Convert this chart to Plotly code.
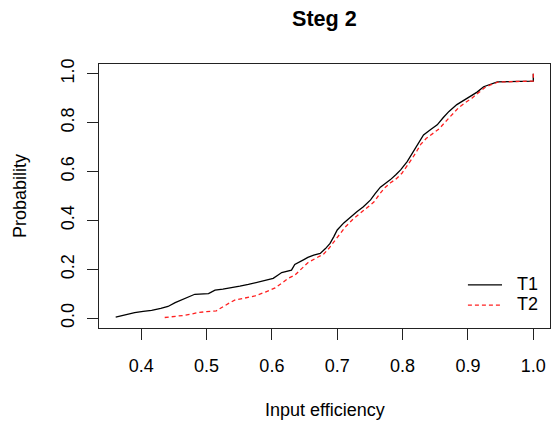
import plotly.graph_objects as go

# ECDF knots (x = input efficiency, y = cumulative probability)
t1_x = [0.361, 0.375, 0.390, 0.403, 0.416, 0.430, 0.441, 0.452, 0.462, 0.472, 0.482, 0.503,
        0.513, 0.525, 0.538, 0.551, 0.564, 0.577, 0.589, 0.602, 0.609, 0.615, 0.630, 0.635,
        0.649, 0.655, 0.664, 0.674, 0.682, 0.689, 0.695, 0.700, 0.710, 0.720, 0.730, 0.740,
        0.751, 0.758, 0.766, 0.774, 0.781, 0.790, 0.797, 0.807, 0.814, 0.820, 0.826, 0.832,
        0.843, 0.853, 0.862, 0.871, 0.883, 0.893, 0.904, 0.914, 0.924, 0.935, 0.945, 0.980,
        1.000, 1.000]
t1_y = [0.004, 0.014, 0.023, 0.028, 0.032, 0.040, 0.048, 0.064, 0.075, 0.086, 0.098, 0.101,
        0.115, 0.119, 0.124, 0.131, 0.138, 0.146, 0.154, 0.163, 0.176, 0.187, 0.197, 0.220,
        0.240, 0.249, 0.258, 0.265, 0.285, 0.306, 0.335, 0.361, 0.390, 0.415, 0.436, 0.456,
        0.484, 0.510, 0.536, 0.552, 0.566, 0.588, 0.607, 0.641, 0.672, 0.700, 0.725, 0.750,
        0.772, 0.791, 0.820, 0.846, 0.874, 0.890, 0.906, 0.925, 0.947, 0.958, 0.967, 0.969,
        0.970, 1.000]

t2_x = [0.436, 0.450, 0.467, 0.477, 0.487, 0.500, 0.515, 0.522, 0.528, 0.536, 0.543, 0.558,
        0.574, 0.590, 0.605, 0.615, 0.625, 0.635, 0.645, 0.655, 0.667, 0.679, 0.687, 0.694,
        0.702, 0.712, 0.724, 0.736, 0.746, 0.756, 0.764, 0.772, 0.781, 0.790, 0.799, 0.808,
        0.815, 0.822, 0.828, 0.836, 0.846, 0.856, 0.866, 0.876, 0.886, 0.896, 0.906, 0.916,
        0.926, 0.936, 0.946, 0.980, 1.000, 1.000]
t2_y = [0.003, 0.006, 0.012, 0.017, 0.023, 0.027, 0.030, 0.042, 0.053, 0.064, 0.074, 0.082,
        0.091, 0.107, 0.124, 0.143, 0.163, 0.176, 0.200, 0.227, 0.245, 0.262, 0.285, 0.310,
        0.340, 0.372, 0.405, 0.432, 0.452, 0.475, 0.505, 0.532, 0.553, 0.570, 0.593, 0.625,
        0.655, 0.685, 0.712, 0.735, 0.755, 0.775, 0.805, 0.835, 0.862, 0.882, 0.900, 0.922,
        0.944, 0.956, 0.966, 0.969, 0.970, 1.000]

series_names = ["T1", "T2"]
x_ticks = [0.4, 0.5, 0.6, 0.7, 0.8, 0.9, 1.0]
y_ticks = [0.0, 0.2, 0.4, 0.6, 0.8, 1.0]

FONT = "Liberation Sans, Arial, Helvetica, sans-serif"

xmin = min(t1_x + t2_x)
xmax = max(t1_x + t2_x)
xpad = 0.04 * (xmax - xmin)

fig = go.Figure()
fig.add_trace(go.Scatter(x=t1_x, y=t1_y, mode="lines",
                         line=dict(color="black", width=1.3), name=series_names[0],
                         showlegend=False))
fig.add_trace(go.Scatter(x=t2_x, y=t2_y, mode="lines",
                         line=dict(color="#ff2020", width=1.3, dash="4px,3px"),
                         name=series_names[1], showlegend=False))

axis_common = dict(showline=True, linecolor="#222", linewidth=1, mirror=True,
                   ticks="outside", ticklen=11, tickcolor="#222", showgrid=False,
                   zeroline=False, tickfont=dict(family=FONT, size=18, color="black"))

fig.update_xaxes(range=[xmin - xpad, xmax + xpad], tickvals=x_ticks,
                 ticktext=[f"{v:.1f}" for v in x_ticks], ticklabelstandoff=10, **axis_common)
fig.update_yaxes(range=[-0.04, 1.04], tickvals=y_ticks,
                 ticktext=[f"{v:.1f}" for v in y_ticks], tickangle=-90,
                 ticklabelstandoff=6, **axis_common)

annotations = [
    dict(text="<b>Steg 2</b>", x=0.5, y=1.174, xref="paper", yref="paper",
         showarrow=False, font=dict(family=FONT, size=21.6, color="black"),
         xanchor="center", yanchor="middle"),
    dict(text="Input efficiency", x=0.5, y=-0.3106, xref="paper", yref="paper",
         showarrow=False, font=dict(family=FONT, size=18, color="black"),
         xanchor="center", yanchor="middle"),
    dict(text="Probability", x=-0.1752, y=0.5, xref="paper", yref="paper",
         showarrow=False, textangle=-90, font=dict(family=FONT, size=18, color="black"),
         xanchor="center", yanchor="middle"),
    dict(text=series_names[0], x=0.922, y=0.168, xref="paper", yref="paper",
         showarrow=False, font=dict(family=FONT, size=18, color="black"),
         xanchor="left", yanchor="middle"),
    dict(text=series_names[1], x=0.922, y=0.09, xref="paper", yref="paper",
         showarrow=False, font=dict(family=FONT, size=18, color="black"),
         xanchor="left", yanchor="middle"),
]
shapes = [
    dict(type="line", xref="paper", yref="paper", x0=0.818, x1=0.8936, y0=0.163, y1=0.163,
         line=dict(color="black", width=1.3)),
    dict(type="line", xref="paper", yref="paper", x0=0.818, x1=0.8936, y0=0.087, y1=0.087,
         line=dict(color="#ff2020", width=1.3, dash="4px,3px")),
]

fig.update_layout(width=553, height=421, margin=dict(l=99, r=3, t=64, b=93),
                  paper_bgcolor="white", plot_bgcolor="white",
                  annotations=annotations, shapes=shapes, showlegend=False)

fig.write_html("out.html")
